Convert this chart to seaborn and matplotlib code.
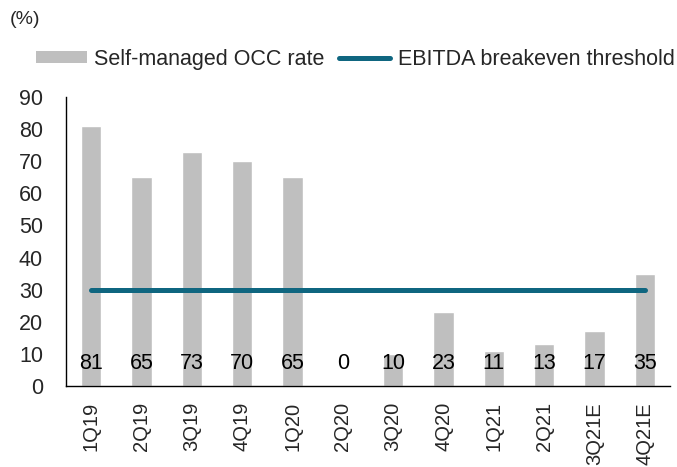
import matplotlib
matplotlib.use("Agg")
import matplotlib.pyplot as plt
import seaborn as sns
import numpy as np
import pandas as pd
from matplotlib.patches import Patch
from matplotlib.lines import Line2D

categories = ["1Q19", "2Q19", "3Q19", "4Q19", "1Q20", "2Q20", "3Q20", "4Q20",
              "1Q21", "2Q21", "3Q21E", "4Q21E"]
occ_rate = [81, 65, 73, 70, 65, 0, 10, 23, 11, 13, 17, 35]
threshold = [30] * len(categories)

sns.set_style("white")
plt.rcParams['font.family'] = ['Liberation Sans', 'DejaVu Sans']

BAR = "#BFBFBF"
LINE = "#0F6680"

fig = plt.figure(figsize=(6.77, 4.67), dpi=100)
ax = fig.add_axes([66/677, 1-386/467, (670-66)/677, (386-97)/467])

df = pd.DataFrame({"q": categories, "v": occ_rate})
sns.barplot(data=df, x="q", y="v", color=BAR, width=0.4, ax=ax, saturation=1)
xpos = np.arange(len(categories))
ax.plot(xpos, threshold, color=LINE, lw=3.6, solid_capstyle="round", zorder=3)

for x, v in zip(xpos, occ_rate):
    ax.text(x, 7.1, f"{v}", ha="center", va="center", fontsize=15.5, color="black", zorder=4)

ax.set_xlim(-0.5, len(categories) - 0.5)
ax.set_ylim(0, 90)
ax.set_yticks(range(0, 91, 10))
ax.set_xlabel("")
ax.set_ylabel("")
ax.set_xticks(xpos)
ax.set_xticklabels(categories, rotation=90, fontsize=14.5)
ax.set_xticks(np.arange(-0.5, len(categories), 1), minor=True)
ax.tick_params(axis="x", which="major", length=0, pad=11.5)
ax.tick_params(axis="x", which="minor", length=4.5, width=1, color="black", direction="out")
ax.tick_params(axis="y", length=3.6, width=1, color="black", direction="out", labelsize=15.5, pad=13)
for s in ["top", "right"]:
    ax.spines[s].set_visible(False)
for s in ["left", "bottom"]:
    ax.spines[s].set_color("black")
    ax.spines[s].set_linewidth(1)

fig.text(10/677, 1-20/467, "(%)", fontsize=14, va="center", ha="left")

handles = [Patch(facecolor=BAR, edgecolor="none"),
           Line2D([0], [0], color=LINE, lw=3.6, solid_capstyle="round")]
fig.legend(handles, ["Self-managed OCC rate", "EBITDA breakeven threshold"],
           loc="center", bbox_to_anchor=(355/677, 1-59/467), ncol=2, frameon=False,
           fontsize=15.5, handlelength=2.4, handleheight=0.47, columnspacing=0.65,
           handletextpad=0.33, borderaxespad=0, borderpad=0)

fig.savefig("out.png", dpi=100)
